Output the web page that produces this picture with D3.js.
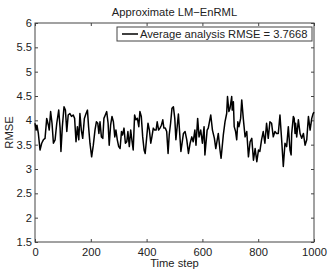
<!DOCTYPE html>
<html><head><meta charset="utf-8">
<script src="https://cdn.jsdelivr.net/npm/d3@7"></script>
<style>body{margin:0;background:#fff}svg{display:block}text{font-family:"Liberation Sans",Arial,sans-serif}</style>
</head><body><svg id="c" width="329" height="271"></svg>
<script>
const title = "Approximate LM\u2212EnRML";
const xLabel = "Time step";
const yLabel = "RMSE";
const legendLabel = "Average analysis RMSE = 3.7668";
const xTicks = [0, 200, 400, 600, 800, 1000];
const yTicks = [1.5, 2, 2.5, 3, 3.5, 4, 4.5, 5, 5.5, 6];
const steps = [0,4,7,12,18,24,30,36,42,48,51,56,61,66,72,78,85,90,93,98,104,109,114,119,125,131,137,142,147,152,157,161,166,171,177,183,188,192,197,203,209,215,220,225,229,233,238,243,247,252,257,262,266,271,276,281,286,290,295,300,305,310,314,319,324,329,333,338,343,348,352,357,362,367,372,376,381,386,391,395,400,405,410,415,419,424,429,434,438,443,448,453,458,462,467,472,477,481,486,491,496,501,505,514,523,532,538,544,550,556,562,567,573,577,583,588,594,600,606,609,617,621,630,636,643,648,657,663,667,675,681,687,690,695,699,705,707,711,714,719,723,727,731,737,741,747,753,759,765,771,777,783,789,795,801,806,812,818,824,830,836,842,848,854,860,866,872,878,884,890,896,902,908,914,918,920,926,929,932,934,938,944,950,956,962,968,974,980,986,992,997,1000];
const rmse = [3.94,3.80,3.90,3.73,3.39,3.53,3.60,3.63,4.04,3.90,3.80,4.18,3.94,3.53,3.60,3.94,4.21,3.84,3.36,3.87,4.28,4.21,3.77,4.11,4.14,4.08,4.11,4.04,3.56,3.87,3.60,4.14,3.80,3.63,4.04,4.14,4.21,3.87,3.53,3.25,3.49,3.80,3.97,3.94,3.73,3.97,3.66,3.63,4.04,4.11,4.18,3.94,3.49,3.90,4.08,3.97,3.66,3.80,3.60,3.46,3.42,3.77,3.70,3.84,3.53,3.56,3.77,3.46,3.80,3.56,3.39,4.11,4.01,4.04,3.87,4.18,4.08,3.66,3.39,3.32,3.63,3.94,3.80,3.53,3.66,3.84,3.80,3.80,3.97,3.80,3.84,3.90,4.01,3.84,3.84,3.77,3.32,3.70,3.94,4.25,4.28,4.04,3.60,4.13,3.36,3.73,3.77,3.60,3.32,3.53,3.66,3.56,3.80,3.49,4.04,3.66,3.80,3.53,3.87,3.29,3.80,3.84,4.11,3.80,3.63,3.42,3.73,3.39,3.22,3.70,3.97,4.14,4.49,4.18,4.25,4.49,4.21,4.38,3.87,3.77,3.60,3.97,3.87,4.04,4.42,4.01,3.66,3.77,3.25,3.56,3.63,3.18,3.42,3.15,3.39,3.36,3.60,3.77,3.53,3.94,3.63,3.97,3.94,3.66,3.77,3.73,3.73,4.11,3.60,3.05,3.53,3.46,3.87,3.39,3.29,3.73,4.08,4.04,3.73,3.94,3.66,4.01,3.73,3.63,3.73,3.49,3.60,4.08,3.80,4.04,4.14,4.17];

const svg = d3.select("#c");
const L = 35, R = 314, T = 23, B = 242;
const x = d3.scaleLinear().domain([0, 1000]).range([L, R]);
const y = d3.scaleLinear().domain([1.5, 6]).range([B, T]);
const axisCol = "#444";
const tickLen = 3;
const fs = "11.2px";

// box
svg.append("rect").attr("x", L).attr("y", T).attr("width", R - L).attr("height", B - T)
  .attr("fill", "none").attr("stroke", axisCol).attr("stroke-width", 1);

function styleAxis(g){
  g.select(".domain").remove();
  g.selectAll(".tick line").attr("stroke", axisCol);
  g.selectAll("text").attr("fill", "#222").style("font-size", fs);
}
svg.append("g").attr("transform", `translate(0,${B})`)
  .call(d3.axisBottom(x).tickValues(xTicks).tickSizeInner(-tickLen).tickSizeOuter(0).tickPadding(6).tickFormat(d3.format("d")))
  .call(styleAxis);
svg.append("g").attr("transform", `translate(0,${T})`)
  .call(d3.axisTop(x).tickValues(xTicks).tickSizeInner(-tickLen).tickSizeOuter(0).tickFormat(""))
  .call(styleAxis);
svg.append("g").attr("transform", `translate(${L},0)`)
  .call(d3.axisLeft(y).tickValues(yTicks).tickSizeInner(-tickLen).tickSizeOuter(0).tickPadding(3).tickFormat(d => String(d)))
  .call(styleAxis);
svg.append("g").attr("transform", `translate(${R},0)`)
  .call(d3.axisRight(y).tickValues(yTicks).tickSizeInner(-tickLen).tickSizeOuter(0).tickFormat(""))
  .call(styleAxis);

// line
const pts = steps.map((s, i) => [s, rmse[i]]);
svg.append("path").datum(pts)
  .attr("fill", "none").attr("stroke", "#000").attr("stroke-width", 1.5).attr("stroke-linejoin", "round")
  .attr("d", d3.line().x(d => x(d[0])).y(d => y(d[1])));

// title & labels
svg.append("text").attr("x", (L + R) / 2).attr("y", 15.5).attr("text-anchor", "middle")
  .style("font-size", fs).attr("fill", "#222").text(title);
svg.append("text").attr("x", (L + R) / 2).attr("y", 266.5).attr("text-anchor", "middle")
  .style("font-size", fs).attr("fill", "#222").text(xLabel);
svg.append("text").attr("transform", `translate(13,${(T + B) / 2}) rotate(-90)`).attr("text-anchor", "middle")
  .style("font-size", fs).attr("fill", "#222").text(yLabel);

// legend
const lg = svg.append("g");
lg.append("rect").attr("x", 117).attr("y", 27).attr("width", 195).attr("height", 14)
  .attr("fill", "#fff").attr("stroke", axisCol).attr("stroke-width", 1);
lg.append("line").attr("x1", 122).attr("x2", 138).attr("y1", 34).attr("y2", 34)
  .attr("stroke", "#000").attr("stroke-width", 1.5);
lg.append("text").attr("x", 140).attr("y", 38).style("font-size", fs).attr("fill", "#222").text(legendLabel);
</script></body></html>
